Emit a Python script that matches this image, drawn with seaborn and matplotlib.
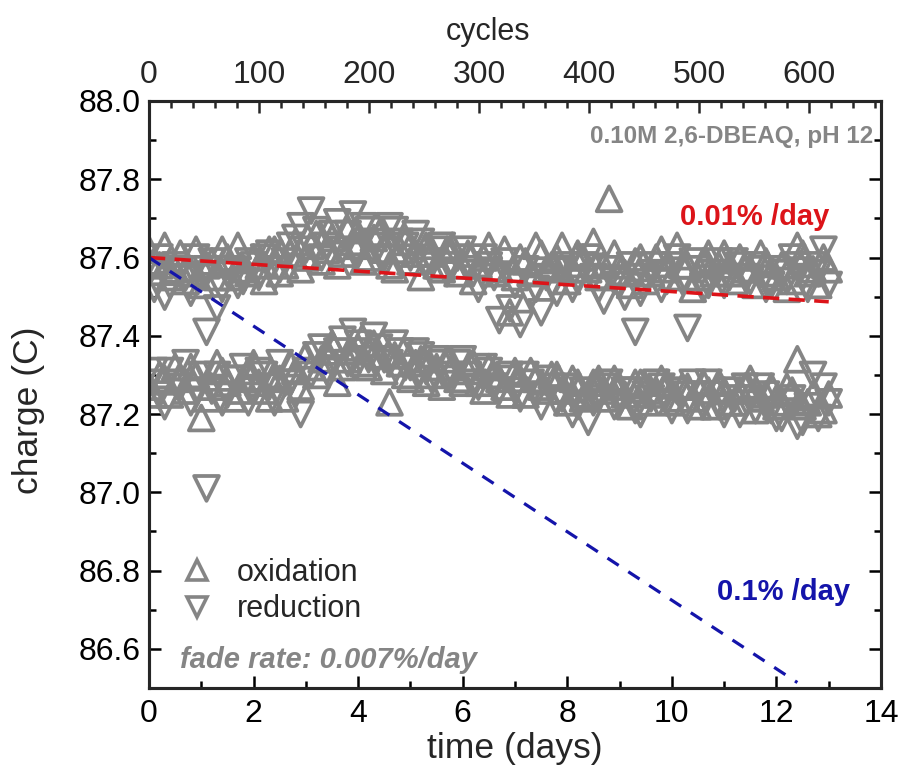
import numpy as np
import pandas as pd
import matplotlib
matplotlib.use("Agg")
import matplotlib.pyplot as plt
from matplotlib.lines import Line2D
from matplotlib.ticker import MultipleLocator
import seaborn as sns

# ---------------- data ----------------
days_a = [0.0, 0.2, 0.4, 0.6, 0.8, 1.0, 1.2, 1.4, 1.6, 1.8, 2.0, 2.2, 2.4, 2.6, 2.8,
          3.0, 3.2, 3.4, 3.6, 3.8, 4.0, 4.2, 4.4, 4.6, 4.8, 5.0, 5.2, 5.4, 5.6, 5.8,
          6.0, 6.2, 6.4, 6.6, 6.8, 7.0, 7.2, 7.4, 7.6, 7.8, 8.0, 8.2, 8.4, 8.6, 8.8,
          9.0, 9.2, 9.4, 9.6, 9.8, 10.0, 10.2, 10.4, 10.6, 10.8, 11.0, 11.2, 11.4,
          11.6, 11.8, 12.0, 12.2, 12.4, 12.6, 12.8, 13.0]
days_b = [0.1, 0.3, 0.5, 0.7, 0.9, 1.1, 1.3, 1.5, 1.7, 1.9, 2.1, 2.3, 2.5, 2.7, 2.9,
          3.1, 3.3, 3.5, 3.7, 3.9, 4.1, 4.3, 4.5, 4.7, 4.9, 5.1, 5.3, 5.5, 5.7, 5.9,
          6.1, 6.3, 6.5, 6.7, 6.9, 7.1, 7.3, 7.5, 7.7, 7.9, 8.1, 8.3, 8.5, 8.7, 8.9,
          9.1, 9.3, 9.5, 9.7, 9.9, 10.1, 10.3, 10.5, 10.7, 10.9, 11.1, 11.3, 11.5,
          11.7, 11.9, 12.1, 12.3, 12.5, 12.7, 12.9]

# oxidation, upper band (days_a, then days_b)
ox_upper_a = [87.62, 87.58, 87.55, 87.61, 87.56, 87.53, 87.59, 87.62, 87.55, 87.57,
              87.60, 87.54, 87.62, 87.58, 87.64, 87.60, 87.66, 87.62, 87.58, 87.67,
              87.63, 87.60, 87.66, 87.58, 87.62, 87.59, 87.55, 87.61, 87.57, 87.63,
              87.58, 87.54, 87.60, 87.56, 87.62, 87.55, 87.59, 87.63, 87.57, 87.60,
              87.54, 87.61, 87.57, 87.55, 87.75, 87.58, 87.53, 87.60, 87.56, 87.62,
              87.55, 87.58, 87.52, 87.59, 87.56, 87.61, 87.54, 87.57, 87.53, 87.59,
              87.55, 87.52, 87.63, 87.56, 87.53, 87.57]
ox_upper_b = [87.59, 87.63, 87.57, 87.54, 87.62, 87.58, 87.55, 87.60, 87.63, 87.56,
              87.58, 87.62, 87.56, 87.61, 87.57, 87.63, 87.59, 87.65, 87.61, 87.64,
              87.59, 87.65, 87.62, 87.57, 87.64, 87.61, 87.63, 87.58, 87.62, 87.56,
              87.61, 87.58, 87.63, 87.57, 87.46, 87.60, 87.56, 87.61, 87.58, 87.63,
              87.57, 87.60, 87.64, 87.58, 87.61, 87.56, 87.59, 87.54, 87.60, 87.57,
              87.63, 87.58, 87.55, 87.61, 87.58, 87.56, 87.60, 87.57, 87.61, 87.56,
              87.58, 87.54, 87.61, 87.57, 87.60]
# oxidation, lower band
ox_lower_a = [87.27, 87.30, 87.25, 87.29, 87.32, 87.19, 87.27, 87.31, 87.24, 87.29,
              87.33, 87.26, 87.30, 87.24, 87.31, 87.35, 87.30, 87.36, 87.28, 87.34,
              87.37, 87.32, 87.35, 87.23, 87.33, 87.29, 87.34, 87.30, 87.27, 87.32,
              87.28, 87.33, 87.26, 87.30, 87.27, 87.31, 87.25, 87.29, 87.26, 87.30,
              87.23, 87.28, 87.25, 87.29, 87.24, 87.27, 87.22, 87.28, 87.25, 87.29,
              87.23, 87.27, 87.24, 87.28, 87.22, 87.26, 87.23, 87.27, 87.21, 87.25,
              87.22, 87.27, 87.34, 87.23, 87.20, 87.25]
ox_lower_b = [87.25, 87.29, 87.32, 87.26, 87.30, 87.24, 87.33, 87.28, 87.26, 87.31,
              87.28, 87.24, 87.29, 87.33, 87.27, 87.32, 87.34, 87.38, 87.32, 87.36,
              87.33, 87.38, 87.31, 87.35, 87.30, 87.33, 87.28, 87.32, 87.34, 87.29,
              87.31, 87.28, 87.32, 87.29, 87.25, 87.29, 87.31, 87.27, 87.30, 87.26,
              87.29, 87.24, 87.28, 87.26, 87.29, 87.25, 87.28, 87.23, 87.26, 87.28,
              87.24, 87.27, 87.22, 87.26, 87.28, 87.23, 87.26, 87.29, 87.24, 87.27,
              87.23, 87.26, 87.22, 87.25, 87.21]
# reduction, upper band (days_b, then days_a)
red_upper_b = [87.52, 87.50, 87.58, 87.55, 87.60, 87.57, 87.47, 87.56, 87.53, 87.59,
               87.55, 87.61, 87.57, 87.63, 87.68, 87.72, 87.60, 87.66, 87.62, 87.71,
               87.68, 87.64, 87.60, 87.67, 87.63, 87.66, 87.58, 87.62, 87.56, 87.60,
               87.57, 87.52, 87.58, 87.44, 87.47, 87.43, 87.50, 87.46, 87.53, 87.57,
               87.52, 87.58, 87.55, 87.49, 87.54, 87.50, 87.41, 87.55, 87.58, 87.54,
               87.60, 87.42, 87.57, 87.53, 87.59, 87.55, 87.58, 87.54, 87.57, 87.53,
               87.56, 87.60, 87.55, 87.58, 87.62]
red_upper_a = [87.56, 87.60, 87.53, 87.57, 87.51, 87.55, 87.59, 87.52, 87.57, 87.54,
               87.58, 87.60, 87.55, 87.59, 87.65, 87.62, 87.67, 87.63, 87.69, 87.66,
               87.61, 87.67, 87.63, 87.68, 87.64, 87.60, 87.64, 87.59, 87.63, 87.58,
               87.62, 87.56, 87.60, 87.55, 87.59, 87.53, 87.57, 87.52, 87.55, 87.51,
               87.58, 87.54, 87.60, 87.52, 87.57, 87.53, 87.58, 87.51, 87.56, 87.52,
               87.58, 87.54, 87.59, 87.52, 87.56, 87.53, 87.59, 87.55, 87.58, 87.52,
               87.57, 87.54, 87.58, 87.52, 87.56, 87.53]
# reduction, lower band
red_lower_b = [87.31, 87.22, 87.28, 87.33, 87.26, 87.41, 87.30, 87.25, 87.29, 87.23,
               87.31, 87.27, 87.33, 87.28, 87.20, 87.30, 87.37, 87.33, 87.39, 87.41,
               87.36, 87.40, 87.34, 87.38, 87.32, 87.36, 87.31, 87.34, 87.29, 87.33,
               87.30, 87.27, 87.31, 87.26, 87.30, 87.24, 87.28, 87.22, 87.27, 87.24,
               87.20, 87.26, 87.23, 87.27, 87.22, 87.26, 87.21, 87.25, 87.28, 87.23,
               87.26, 87.21, 87.25, 87.28, 87.22, 87.26, 87.20, 87.24, 87.27, 87.21,
               87.19, 87.24, 87.18, 87.30, 87.27]
red_lower_a = [87.28, 87.25, 87.31, 87.27, 87.23, 87.30, 87.26, 87.23, 87.29, 87.32,
               87.26, 87.30, 87.23, 87.28, 87.25, 87.31, 87.35, 87.31, 87.36, 87.33,
               87.38, 87.34, 87.37, 87.33, 87.36, 87.32, 87.35, 87.29, 87.33, 87.30,
               87.34, 87.28, 87.32, 87.27, 87.29, 87.26, 87.30, 87.25, 87.29, 87.23,
               87.27, 87.22, 87.18, 87.24, 87.28, 87.23, 87.26, 87.20, 87.24, 87.27,
               87.21, 87.25, 87.28, 87.22, 87.25, 87.20, 87.24, 87.27, 87.21, 87.25,
               87.19, 87.23, 87.17, 87.22, 87.19, 87.23]
red_outlier_days = [1.1]
red_outlier = [87.01]

fit_days = [0.0, 13.0]
fit_slow = [87.60, 87.487]        # 0.01 %/day
fit_fast_days = [0.0, 12.4]
fit_fast = [87.60, 86.514]        # 0.1 %/day

x_ticks = [0, 2, 4, 6, 8, 10, 12, 14]
y_ticks = [86.6, 86.8, 87.0, 87.2, 87.4, 87.6, 87.8, 88.0]
cycle_ticks = [0, 100, 200, 300, 400, 500, 600]
cycles_at_14_days = 665

# ---------------- table ----------------
parts = [
    (days_a, ox_upper_a, "oxidation"), (days_b, ox_upper_b, "oxidation"),
    (days_a, ox_lower_a, "oxidation"), (days_b, ox_lower_b, "oxidation"),
    (days_b, red_upper_b, "reduction"), (days_a, red_upper_a, "reduction"),
    (days_b, red_lower_b, "reduction"), (days_a, red_lower_a, "reduction"),
    (red_outlier_days, red_outlier, "reduction"),
]
df = pd.concat([pd.DataFrame({"days": d, "charge": c, "kind": k}) for d, c, k in parts],
               ignore_index=True)

# ---------------- style ----------------
sns.set_theme(style="ticks")
plt.rcParams["font.family"] = ["Liberation Sans", "DejaVu Sans"]

GRAY = "#858585"
RED = "#DC1419"
BLUE = "#1414AA"

fig = plt.figure(figsize=(9.02, 7.74), dpi=100)
ax = fig.add_axes([149 / 902, 1 - 688 / 774, 732 / 902, 587 / 774])

sns.scatterplot(data=df, x="days", y="charge", style="kind",
                markers={"oxidation": "^", "reduction": "v"},
                s=320, facecolors="none", edgecolor=GRAY, linewidth=2.7,
                color=GRAY, legend=False, ax=ax, zorder=2)

sns.lineplot(x=fit_days, y=fit_slow, color=RED, linewidth=2.6, ax=ax, zorder=3)
ax.lines[-1].set_linestyle((0, (4.5, 2.6)))
sns.lineplot(x=fit_fast_days, y=fit_fast, color=BLUE, linewidth=2.3, ax=ax, zorder=3)
ax.lines[-1].set_linestyle((0, (4.2, 3.6)))

ax.set_xlim(0, 14)
ax.set_ylim(86.5, 88.0)
ax.set_xticks(x_ticks)
ax.set_yticks(y_ticks)
ax.set_yticklabels([f"{v:.1f}" for v in y_ticks])
ax.xaxis.set_minor_locator(MultipleLocator(1))
ax.yaxis.set_minor_locator(MultipleLocator(0.1))
ax.tick_params(which="both", direction="in", top=False, right=True,
               width=1.8, colors="black", labelsize=23)
ax.tick_params(which="major", length=8.5)
ax.tick_params(which="minor", length=5)
ax.tick_params(axis="x", pad=8)
ax.tick_params(axis="y", pad=6)
for sp in ax.spines.values():
    sp.set_linewidth(2.2)
    sp.set_color("black")

ax.set_xlabel("time (days)", fontsize=25.5, labelpad=2)
ax.set_ylabel("charge (C)", fontsize=25.5)
ax.yaxis.set_label_coords((45 - 149) / 732, (688 - 410) / 587)

# top cycles axis
ax2 = ax.twiny()
ax2.set_xlim(0, cycles_at_14_days)
ax2.set_xticks(cycle_ticks)
ax2.xaxis.set_minor_locator(MultipleLocator(20))
ax2.tick_params(which="both", direction="in", width=1.8, labelsize=23, pad=8)
ax2.tick_params(which="major", length=8.5)
ax2.tick_params(which="minor", length=5)
ax2.set_xlabel("cycles", fontsize=22)
ax2.xaxis.set_label_coords((488 - 149) / 732, 1.0 + (101 - 40) / 587)
for sp in ax2.spines.values():
    sp.set_linewidth(2.2)

# annotations
ax.text(0.989, 0.940, "0.10M 2,6-DBEAQ, pH 12", transform=ax.transAxes,
        ha="right", va="center", fontsize=17.5, fontweight="bold", color=GRAY)
ax.text(0.725, 0.802, "0.01% /day", transform=ax.transAxes,
        ha="left", va="center", fontsize=21, fontweight="bold", color=RED)
ax.text(0.776, 0.1635, "0.1% /day", transform=ax.transAxes,
        ha="left", va="center", fontsize=21, fontweight="bold", color=BLUE)
ax.text(0.042, 0.048, "fade rate: 0.007%/day", transform=ax.transAxes,
        ha="left", va="center", fontsize=21, fontweight="bold", fontstyle="italic",
        color=GRAY)

handles = [Line2D([], [], linestyle="none", marker="^", markersize=14,
                  markerfacecolor="none", markeredgecolor=GRAY, markeredgewidth=2.6),
           Line2D([], [], linestyle="none", marker="v", markersize=14,
                  markerfacecolor="none", markeredgecolor=GRAY, markeredgewidth=2.6)]
ax.legend(handles, ["oxidation", "reduction"], loc="center left",
          bbox_to_anchor=(0.045, 0.165), frameon=False, fontsize=22,
          handlelength=1.0, handletextpad=0.8, labelspacing=0.2,
          borderpad=0, borderaxespad=0)

fig.savefig("out.png", dpi=100)
